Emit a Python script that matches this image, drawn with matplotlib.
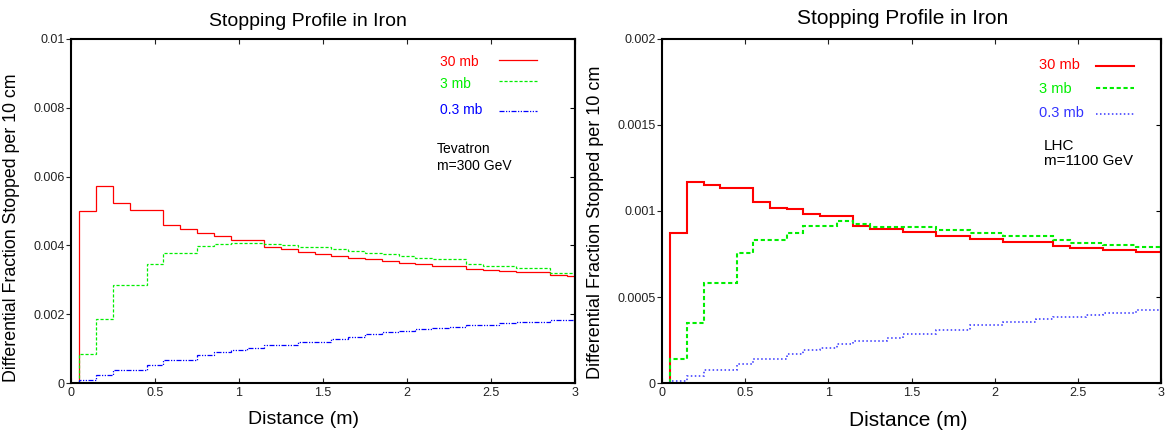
import numpy as np
import matplotlib
matplotlib.use("Agg")
import matplotlib.pyplot as plt

plt.rcParams['font.family'] = ['Liberation Sans', 'DejaVu Sans']

# 10 cm bins starting at 5 cm
bin_edges = np.round(np.arange(0.05, 3.06, 0.1), 2)
labels = ['30 mb', '3 mb', '0.3 mb']

# Tevatron, m=300 GeV
tev_30 = [0.00501, 0.00574, 0.00523, 0.00504, 0.00504, 0.00458, 0.00448, 0.00436, 0.00426, 0.00416,
          0.00416, 0.00395, 0.00390, 0.00382, 0.00375, 0.00368, 0.00364, 0.00360, 0.00355, 0.00350,
          0.00345, 0.00340, 0.00340, 0.00331, 0.00328, 0.00326, 0.00323, 0.00322, 0.00314, 0.00311]
tev_3 = [0.00084, 0.00185, 0.00284, 0.00284, 0.00345, 0.00379, 0.00379, 0.00397, 0.00403, 0.00406,
         0.00406, 0.00403, 0.00400, 0.00394, 0.00394, 0.00389, 0.00385, 0.00378, 0.00374, 0.00368,
         0.00364, 0.00360, 0.00360, 0.00347, 0.00341, 0.00341, 0.00335, 0.00335, 0.00321, 0.00321]
tev_03 = [0.00010, 0.00022, 0.00038, 0.00038, 0.00053, 0.00067, 0.00067, 0.00080, 0.00089, 0.00095,
          0.00102, 0.00110, 0.00110, 0.00120, 0.00120, 0.00128, 0.00133, 0.00142, 0.00147, 0.00151,
          0.00156, 0.00159, 0.00162, 0.00169, 0.00169, 0.00173, 0.00176, 0.00178, 0.00182, 0.00182]

# LHC, m=1100 GeV
lhc_30 = [0.000874, 0.001171, 0.001153, 0.001136, 0.001136, 0.00105, 0.00102, 0.00101, 0.00098, 0.00097,
          0.00097, 0.000913, 0.000895, 0.000895, 0.000876, 0.000876, 0.000857, 0.000857, 0.000837, 0.000837,
          0.00082, 0.00082, 0.00082, 0.000797, 0.000783, 0.000783, 0.000773, 0.000773, 0.00076, 0.00076]
lhc_3 = [0.00014, 0.000349, 0.000581, 0.000581, 0.000755, 0.000831, 0.000831, 0.000872, 0.000913, 0.000913,
         0.000942, 0.000922, 0.000909, 0.000909, 0.000906, 0.000906, 0.000888, 0.000888, 0.000872, 0.000872,
         0.000855, 0.000855, 0.000855, 0.00083, 0.000816, 0.000816, 0.000805, 0.000805, 0.000789, 0.000789]
lhc_03 = [0.00001, 0.000039, 0.000076, 0.000076, 0.00011, 0.000142, 0.000142, 0.000169, 0.000192, 0.000204,
          0.000225, 0.000244, 0.000244, 0.000262, 0.000287, 0.000287, 0.00031, 0.00031, 0.000335, 0.000335,
          0.000355, 0.000355, 0.000374, 0.000384, 0.000384, 0.000395, 0.000409, 0.000409, 0.000424, 0.000424]

x_ticks = [0, 0.5, 1, 1.5, 2, 2.5, 3]
x_ticklabels = ['0', '0.5', '1', '1.5', '2', '2.5', '3']
tev_yticks = [0, 0.002, 0.004, 0.006, 0.008, 0.01]
tev_yticklabels = ['0', '0.002', '0.004', '0.006', '0.008', '0.01']
lhc_yticks = [0, 0.0005, 0.001, 0.0015, 0.002]
lhc_yticklabels = ['0', '0.0005', '0.001', '0.0015', '0.002']

fig = plt.figure(figsize=(11.66, 4.30), dpi=100)
ax1 = fig.add_axes([71 / 1166, 47 / 430, 504 / 1166, 344 / 430])
ax2 = fig.add_axes([662 / 1166, 47 / 430, 499 / 1166, 344 / 430])


def style_axes(ax, yticks, yticklabels, xl_size, yl_size):
    ax.set_xlim(0, 3)
    ax.set_ylim(yticks[0], yticks[-1])
    ax.set_xticks(x_ticks, x_ticklabels)
    ax.set_yticks(yticks, yticklabels)
    ax.tick_params(axis='x', direction='in', top=True, length=3.5, width=0.8,
                   labelsize=9, pad=3, colors='#222222')
    ax.tick_params(axis='y', direction='out', right=False, length=3.5, width=0.8,
                   labelsize=9, pad=1, colors='#222222')
    sec = ax.secondary_yaxis('right')
    sec.set_yticks(yticks)
    sec.tick_params(direction='in', length=3.5, width=0.8, labelright=False)
    for sp in list(ax.spines.values()) + [sec.spines['right']]:
        sp.set_linewidth(1.5)
    ax.set_xlabel('Distance (m)', fontsize=xl_size)
    ax.set_ylabel('Differential Fraction Stopped per 10 cm', fontsize=yl_size)


def key(ax, lines, text_x, text_ys, line_x, line_ys, size):
    # legend written as: coloured label on the left, line sample on the right
    for ln, ty, ly in zip(lines, text_ys, line_ys):
        ax.text(text_x, ty, ln.get_label(), transform=ax.transAxes, color=ln.get_edgecolor(),
                fontsize=size, ha='left', va='center')
        ax.plot(line_x, [ly, ly], transform=ax.transAxes, color=ln.get_edgecolor(),
                lw=ln.get_linewidth(), linestyle=ln.get_linestyle(), clip_on=False)


# left panel: Tevatron
s1 = [ax1.stairs(tev_30, bin_edges, baseline=0, color='#ff0000', lw=0.9, label=labels[0]),
      ax1.stairs(tev_3, bin_edges, baseline=0, color='#00ee00', lw=0.9,
                 linestyle=(0, (2.5, 1.5)), label=labels[1]),
      ax1.stairs(tev_03, bin_edges, baseline=0, color='#0000ff', lw=0.9,
                 linestyle=(0, (4, 1.2, 1, 1.2, 1, 1.2)), label=labels[2])]
style_axes(ax1, tev_yticks, tev_yticklabels, 14, 12.8)
ax1.set_title('Stopping Profile in Iron', fontsize=14, x=0.47, y=1.015)
ax1.xaxis.set_label_coords(0.462, -0.08)
ax1.yaxis.set_label_coords(-0.101, 0.45)
key(ax1, s1, 0.732, [0.933, 0.869, 0.794], [0.849, 0.925], [0.939, 0.878, 0.791], 10)
ax1.text(0.726, 0.656, 'Tevatron\nm=300 GeV', transform=ax1.transAxes,
         fontsize=10, va='center', ha='left', linespacing=1.22)

# right panel: LHC
s2 = [ax2.stairs(lhc_30, bin_edges, baseline=0, color='#ff0000', lw=1.5, label=labels[0]),
      ax2.stairs(lhc_3, bin_edges, baseline=0, color='#00ee00', lw=1.5,
                 linestyle=(0, (2, 1.3)), label=labels[1]),
      ax2.stairs(lhc_03, bin_edges, baseline=0, color='#3333ff', lw=1.1,
                 linestyle=(0, (1, 1.6)), label=labels[2])]
style_axes(ax2, lhc_yticks, lhc_yticklabels, 15, 13)
ax2.set_title('Stopping Profile in Iron', fontsize=15, x=0.483, y=1.018)
ax2.xaxis.set_label_coords(0.493, -0.08)
ax2.yaxis.set_label_coords(-0.116, 0.468)
key(ax2, s2, 0.7555, [0.924, 0.855, 0.785], [0.870, 0.946], [0.922, 0.858, 0.782], 10.5)
ax2.text(0.7655, 0.667, 'LHC\nm=1100 GeV', transform=ax2.transAxes,
         fontsize=11, va='center', ha='left', linespacing=1.1)

fig.savefig('out.png', dpi=100)
